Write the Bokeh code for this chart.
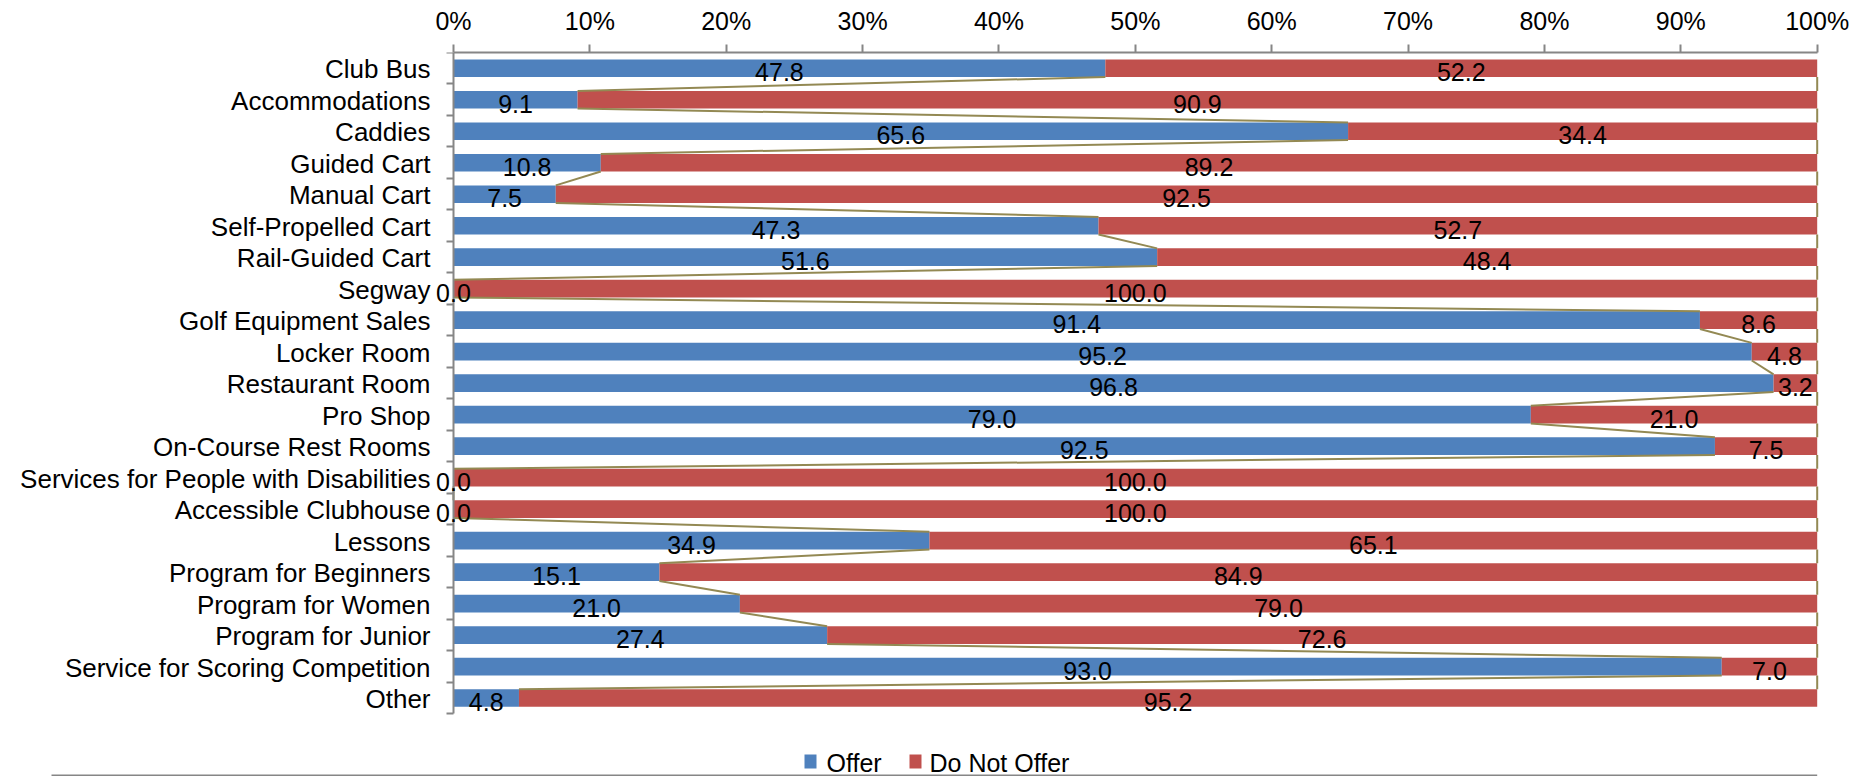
from bokeh.plotting import figure
from bokeh.models import Range1d, FixedTicker, ColumnDataSource, LabelSet
from bokeh.core.properties import value
from bokeh.embed import file_html
from bokeh.resources import INLINE

categories = ["Club Bus", "Accommodations", "Caddies", "Guided Cart", "Manual Cart",
              "Self-Propelled Cart", "Rail-Guided Cart", "Segway", "Golf Equipment Sales",
              "Locker Room", "Restaurant Room", "Pro Shop", "On-Course Rest Rooms",
              "Services for People with Disabilities", "Accessible Clubhouse", "Lessons",
              "Program for Beginners", "Program for Women", "Program for Junior",
              "Service for Scoring Competition", "Other"]
offer = [47.8, 9.1, 65.6, 10.8, 7.5, 47.3, 51.6, 0.0, 91.4, 95.2, 96.8, 79.0, 92.5,
         0.0, 0.0, 34.9, 15.1, 21.0, 27.4, 93.0, 4.8]
do_not_offer = [52.2, 90.9, 34.4, 89.2, 92.5, 52.7, 48.4, 100.0, 8.6, 4.8, 3.2, 21.0, 7.5,
                100.0, 100.0, 65.1, 84.9, 79.0, 72.6, 7.0, 95.2]
series_names = ["Offer", "Do Not Offer"]
x_ticks = [0, 10, 20, 30, 40, 50, 60, 70, 80, 90, 100]
x_tick_labels = ["0%", "10%", "20%", "30%", "40%", "50%", "60%", "70%", "80%", "90%", "100%"]

BLUE = "#4F81BD"
RED = "#C0504D"
SERIES_LINE = "#938953"
AXIS = "#868686"
FONT = "Liberation Sans"
FS = "25px"
FS_CAT = "26px"
H = 0.56  # bar thickness as a fraction of a category band

# ---- layout (pixels) ----
W, HT = 1856, 776
PX0, PX100 = 453.0, 1816.7        # pixel x of 0% and 100%
PY_TOP, PY_BOT = 52.0, 713.3      # pixel y of category-axis top and bottom
FRAME_L, FRAME_R = 20, 1830
n = len(categories)
ppx = (PX100 - PX0) / 100.0
ppy = (PY_BOT - PY_TOP) / n


def px_to_x(px):
    return (px - PX0) / ppx


def py_to_y(py):
    return (PY_BOT - py) / ppy


yc = [n - i - 0.5 for i in range(n)]
total = [o + d for o, d in zip(offer, do_not_offer)]

p = figure(width=W, height=HT,
           x_range=Range1d(px_to_x(FRAME_L), px_to_x(FRAME_R)),
           y_range=Range1d(py_to_y(HT), py_to_y(PY_TOP)),
           x_axis_location="above", toolbar_location=None, output_backend="svg",
           min_border_left=FRAME_L, min_border_right=W - FRAME_R,
           min_border_top=int(PY_TOP), min_border_bottom=0)
p.outline_line_color = None
p.xgrid.visible = False
p.ygrid.visible = False
p.background_fill_color = "white"
p.border_fill_color = "white"

src = ColumnDataSource(dict(
    y=yc, offer=offer, total=total, zero=[0] * n, cat=categories,
    mid1=[o / 2 for o in offer],
    mid2=[o + d / 2 for o, d in zip(offer, do_not_offer)],
    lab1=["%.1f" % v for v in offer],
    lab2=["%.1f" % v for v in do_not_offer],
))

p.hbar(y="y", left="zero", right="offer", height=H, source=src,
       fill_color=BLUE, line_color=None)
p.hbar(y="y", left="offer", right="total", height=H, source=src,
       fill_color=RED, line_color=None)

# series lines
p.segment(x0=offer[:-1], y0=[y - H / 2 for y in yc[:-1]],
          x1=offer[1:], y1=[y + H / 2 for y in yc[1:]],
          line_color=SERIES_LINE, line_width=2)
p.segment(x0=total[:-1], y0=[y - H / 2 for y in yc[:-1]],
          x1=total[1:], y1=[y + H / 2 for y in yc[1:]],
          line_color=SERIES_LINE, line_width=2)

# data labels
for xcol, tcol in (("mid1", "lab1"), ("mid2", "lab2")):
    p.add_layout(LabelSet(x=xcol, y="y", text=tcol, source=src, text_align="center",
                          text_baseline="middle", y_offset=-4, text_font=value(FONT),
                          text_font_size=FS, text_color="black"))

# category labels, right-aligned left of the 0% axis
p.text(x="zero", y="y", text="cat", source=src, x_offset=-23, y_offset=1,
       text_align="right", text_baseline="middle", text_font=value(FONT),
       text_font_size=FS_CAT, text_color="black")

# top axis
xa = p.xaxis[0]
xa.ticker = FixedTicker(ticks=x_ticks)
xa.bounds = (0, 100)
xa.major_label_overrides = {t: l for t, l in zip(x_ticks, x_tick_labels)}
xa.major_tick_out = 8
xa.major_tick_in = 0
xa.minor_tick_out = 0
xa.minor_tick_in = 0
xa.major_label_standoff = 10
xa.axis_line_color = AXIS
xa.axis_line_width = 2
xa.major_tick_line_color = AXIS
xa.major_tick_line_width = 2
xa.major_label_text_font = FONT
xa.major_label_text_font_size = FS
xa.major_label_text_color = "black"

# left (category) axis line with tick marks between categories, pinned at 0%
ya = p.yaxis[0]
ya.fixed_location = 0
ya.bounds = (0, n)
ya.ticker = FixedTicker(ticks=[], minor_ticks=list(range(n + 1)))
ya.major_tick_out = 0
ya.major_tick_in = 0
ya.minor_tick_out = 7
ya.minor_tick_in = 0
ya.minor_tick_line_color = AXIS
ya.minor_tick_line_width = 2
ya.major_label_standoff = 0
ya.axis_line_color = AXIS
ya.axis_line_width = 2

# legend (drawn below the bars)
p.rect(x=[px_to_x(810), px_to_x(915)], y=[py_to_y(761)] * 2, width=12, height=14,
       width_units="screen", height_units="screen", fill_color=[BLUE, RED],
       line_color=None)
p.text(x=[px_to_x(826), px_to_x(929)], y=[py_to_y(762)] * 2, text=series_names,
       text_font=value(FONT), text_font_size=FS, text_color="black",
       text_align="left", text_baseline="middle")

# thin rule along the bottom of the chart
p.segment(x0=[px_to_x(51)], y0=[py_to_y(775)], x1=[100], y1=[py_to_y(775)],
          line_color=AXIS, line_width=2)

open("out.html", "w").write(file_html(p, INLINE))
